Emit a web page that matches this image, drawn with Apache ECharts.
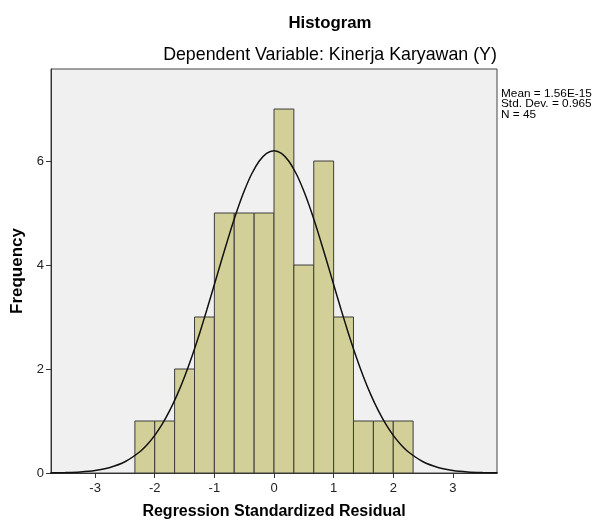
<!DOCTYPE html>
<html>
<head>
<meta charset="utf-8">
<style>
  html, body { margin: 0; padding: 0; background: #fff; }
  #chart { width: 595px; height: 520px; }
</style>
<script src="https://cdn.jsdelivr.net/npm/echarts@6/dist/echarts.min.js"></script>
</head>
<body>
<div id="chart"></div>
<script>
// histogram bins (edges) and counts
const binStarts = [-2.333, -2, -1.667, -1.333, -1, -0.667, -0.333, 0, 0.333, 0.667, 1, 1.333, 1.667, 2]
const binEnds = [-2, -1.667, -1.333, -1, -0.667, -0.333, 0, 0.333, 0.667, 1, 1.333, 1.667, 2, 2.333]
const counts = [1, 1, 2, 3, 5, 5, 5, 7, 4, 6, 3, 1, 1, 1]

// normal curve points
const curveX = [-3.75, -3.5, -3.25, -3, -2.75, -2.5, -2.25, -2.125, -2, -1.875, -1.75, -1.625, -1.5, -1.375,
  -1.25, -1.125, -1, -0.875, -0.75, -0.625, -0.5, -0.375, -0.25, -0.125, 0,
  0.125, 0.25, 0.375, 0.5, 0.625, 0.75, 0.875, 1, 1.125, 1.25, 1.375, 1.5, 1.625, 1.75, 1.875, 2, 2.125,
  2.25, 2.5, 2.75, 3, 3.25, 3.5, 3.75]
const curveY = [0.003, 0.009, 0.021, 0.049, 0.107, 0.216, 0.409, 0.549, 0.724, 0.939, 1.198, 1.502, 1.853, 2.247,
  2.68, 3.143, 3.624, 4.111, 4.585, 5.028, 5.422, 5.75, 5.996, 6.149, 6.2,
  6.149, 5.996, 5.75, 5.422, 5.028, 4.585, 4.111, 3.624, 3.143, 2.68, 2.247, 1.853, 1.502, 1.198, 0.939, 0.724, 0.549,
  0.409, 0.216, 0.107, 0.049, 0.021, 0.009, 0.003]

const xTicks = [-3, -2, -1, 0, 1, 2, 3]
const yTicks = [0, 2, 4, 6]
const statsLines = ['Mean = 1.56E-15', 'Std. Dev. = 0.965', 'N = 45']

const font = 'Liberation Sans, Arial, sans-serif'
const chart = echarts.init(document.getElementById('chart'))

const barData = counts.map((c, i) => [binStarts[i], binEnds[i], c])
const curveData = curveX.map((x, i) => [x, curveY[i]])

chart.setOption({
  animation: false,
  textStyle: { fontFamily: font },
  graphic: [
    {
      type: 'text', x: 330, y: 23,
      style: { text: 'Histogram', font: 'bold 16.8px ' + font, fill: '#000', align: 'center', verticalAlign: 'middle' },
    },
    {
      type: 'text', x: 330, y: 55,
      style: { text: 'Dependent Variable: Kinerja Karyawan (Y)', font: '17.8px ' + font, fill: '#000', align: 'center', verticalAlign: 'middle' },
    },
    {
      type: 'text', x: 501, y: 88,
      style: { text: statsLines.join('\n'), font: '11.8px ' + font, lineHeight: 10.8, fill: '#000' },
    },
  ],
  grid: {
    left: 51, top: 69, width: 446, height: 404,
    outerBoundsMode: 'none',
    containLabel: false,
    show: true, backgroundColor: '#f0f0f0', borderColor: '#444', borderWidth: 1,
  },
  xAxis: {
    type: 'value',
    min: -3.74,
    max: 3.74,
    name: 'Regression Standardized Residual',
    nameLocation: 'middle',
    nameGap: 31,
    nameTextStyle: { fontWeight: 'bold', fontSize: 16, color: '#000' },
    axisLine: { lineStyle: { color: '#333' } },
    axisTick: { show: true, length: 5, customValues: xTicks, lineStyle: { color: '#333' } },
    axisLabel: { customValues: xTicks, fontSize: 13, color: '#222', margin: 9 },
    splitLine: { show: false },
  },
  yAxis: {
    type: 'value',
    min: 0,
    max: 7.77,
    name: 'Frequency',
    nameLocation: 'middle',
    nameGap: 20,
    nameRotate: 90,
    nameTextStyle: { fontWeight: 'bold', fontSize: 17, color: '#000' },
    axisLine: { show: true, onZero: false, lineStyle: { color: '#333' } },
    axisTick: { show: true, length: 5, customValues: yTicks, lineStyle: { color: '#333' } },
    axisLabel: { customValues: yTicks, fontSize: 13, color: '#222', margin: 7 },
    splitLine: { show: false },
  },
  series: [
    {
      type: 'custom',
      data: barData,
      encode: { x: [0, 1], y: 2 },
      renderItem: (params, api) => {
        const p0 = api.coord([api.value(0), 0])
        const p1 = api.coord([api.value(1), api.value(2)])
        return {
          type: 'rect',
          shape: { x: p0[0], y: p1[1], width: p1[0] - p0[0], height: p0[1] - p1[1] },
          style: { fill: '#d3cf98', stroke: '#3c3c3c', lineWidth: 1 },
        }
      },
      z: 2,
    },
    {
      type: 'line',
      data: curveData,
      smooth: 0.3,
      showSymbol: false,
      lineStyle: { color: '#111', width: 1.5 },
      z: 3,
    },
  ],
})
</script>
</body>
</html>
